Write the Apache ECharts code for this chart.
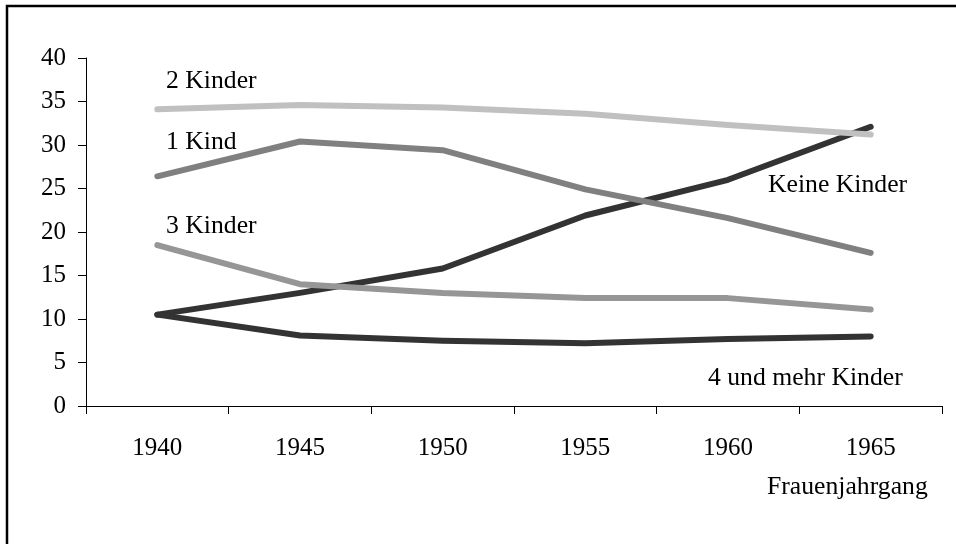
<!DOCTYPE html>
<html>
<head>
<meta charset="utf-8">
<script src="https://cdn.jsdelivr.net/npm/echarts@6/dist/echarts.min.js"></script>
<style>
html, body { margin: 0; padding: 0; background: #fff; }
#chart { width: 956px; height: 544px; }
</style>
</head>
<body>
<div id="chart"></div>
<script>
// Frauenjahrgang
var years = ['1940', '1945', '1950', '1955', '1960', '1965'];

// Anteil in % nach Kinderzahl
var keineKinder = [10.5, 13.0, 15.8, 21.9, 26.0, 32.1];
var einKind = [26.4, 30.4, 29.4, 24.9, 21.6, 17.6];
var zweiKinder = [34.1, 34.6, 34.3, 33.6, 32.3, 31.2];
var dreiKinder = [18.5, 14.0, 13.0, 12.4, 12.4, 11.1];
var vierUndMehr = [10.5, 8.1, 7.5, 7.2, 7.7, 8.0];

var font = '"Liberation Serif", "DejaVu Serif", serif';

function line(name, data, color) {
    return {
        name: name,
        type: 'line',
        data: data,
        symbol: 'none',
        animation: false,
        lineStyle: { color: color, width: 6, cap: 'round', join: 'round' }
    };
}

function label(text, x, y) {
    return {
        type: 'text',
        x: x,
        y: y,
        style: {
            text: text,
            font: '25.7px ' + font,
            fill: '#000',
            verticalAlign: 'middle'
        }
    };
}

var myChart = echarts.init(document.getElementById('chart'));
var option = {
    backgroundColor: '#fff',
    animation: false,
    grid: { left: 86, top: 58, right: 14, bottom: 138 },
    xAxis: {
        type: 'category',
        data: years,
        boundaryGap: true,
        axisLine: { lineStyle: { color: '#000', width: 1 } },
        axisTick: { show: true, length: 8, inside: false, lineStyle: { color: '#000' } },
        axisLabel: { color: '#000', fontFamily: font, fontSize: 25, margin: 30 },
        splitLine: { show: false }
    },
    yAxis: {
        type: 'value',
        min: 0,
        max: 40,
        interval: 5,
        axisLine: { show: true, lineStyle: { color: '#000', width: 1 } },
        axisTick: { show: true, length: 8, lineStyle: { color: '#000' } },
        axisLabel: { color: '#000', fontFamily: font, fontSize: 25, margin: 20 },
        splitLine: { show: false }
    },
    series: [
        line('Keine Kinder', keineKinder, '#333333'),
        line('4 und mehr Kinder', vierUndMehr, '#333333'),
        line('1 Kind', einKind, '#808080'),
        line('3 Kinder', dreiKinder, '#969696'),
        line('2 Kinder', zweiKinder, '#c0c0c0')
    ],
    graphic: [
        {
            type: 'rect',
            shape: { x: 7, y: 6, width: 1000, height: 600 },
            style: { fill: 'none', stroke: '#000', lineWidth: 2.5 },
            silent: true
        },
        label('2 Kinder', 166, 81),
        label('1 Kind', 166, 142),
        label('3 Kinder', 166, 226),
        label('Keine Kinder', 768, 185),
        label('4 und mehr Kinder', 708, 378),
        label('Frauenjahrgang', 767, 487)
    ]
};
option && myChart.setOption(option);
</script>
</body>
</html>
